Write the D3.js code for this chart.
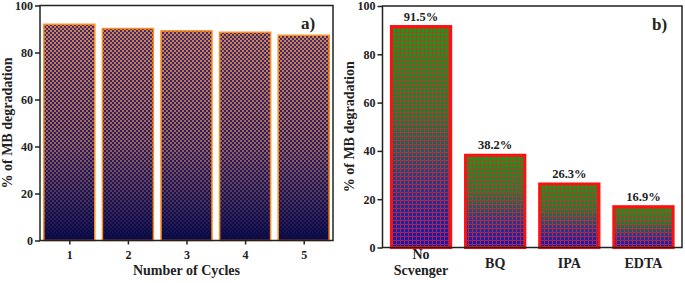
<!DOCTYPE html>
<html>
<head>
<meta charset="utf-8">
<script src="https://cdn.jsdelivr.net/npm/d3@7"></script>
<style>
  body { margin: 0; background: #fff; }
  svg { display: block; }
  text { font-family: "Liberation Serif", "DejaVu Serif", serif; font-weight: bold; fill: #222; }
  .tick text { font-size: 12px; font-family: "Liberation Serif", "DejaVu Serif", serif; }
</style>
</head>
<body>
<div id="chart"></div>
<script>
// panel a) reuse cycles
const cycles = [1, 2, 3, 4, 5]
const cycleValues = [92.0, 90.2, 89.2, 88.6, 87.3]

// panel b) scavenger test
const scavengers = ["No Scvenger", "BQ", "IPA", "EDTA"]
const scavengerValues = [91.5, 38.2, 26.3, 16.9]

const yTicks = [0, 20, 40, 60, 80, 100]

const W = 685, H = 283
const FONT = "'Liberation Serif', 'DejaVu Serif', serif"

const svg = d3.select("#chart").append("svg")
    .attr("width", W)
    .attr("height", H)
    .attr("font-family", FONT)

const defs = svg.append("defs")

// fade mask: pattern strong at the top, gone at the bottom of each bar
const fade = defs.append("linearGradient")
    .attr("id", "fadeGrad").attr("x1", 0).attr("y1", 0).attr("x2", 0).attr("y2", 1)
fade.append("stop").attr("offset", 0).attr("stop-color", "#fff")
fade.append("stop").attr("offset", 0.55).attr("stop-color", "#b0b0b0")
fade.append("stop").attr("offset", 1).attr("stop-color", "#000")
defs.append("mask")
    .attr("id", "fadeMask")
    .attr("maskContentUnits", "objectBoundingBox")
  .append("rect")
    .attr("width", 1).attr("height", 1)
    .attr("fill", "url(#fadeGrad)")

// a) navy base + orange checker
const baseA = defs.append("linearGradient")
    .attr("id", "baseA").attr("x1", 0).attr("y1", 0).attr("x2", 0).attr("y2", 1)
baseA.append("stop").attr("offset", 0).attr("stop-color", "#3a2a80")
baseA.append("stop").attr("offset", 0.6).attr("stop-color", "#221a6a")
baseA.append("stop").attr("offset", 1).attr("stop-color", "#0a0a48")

const checker = defs.append("pattern")
    .attr("id", "checker")
    .attr("patternUnits", "userSpaceOnUse")
    .attr("width", 4).attr("height", 4)
checker.append("rect").attr("width", 2).attr("height", 2).attr("fill", "#d8843e")
checker.append("rect").attr("x", 2).attr("y", 2).attr("width", 2).attr("height", 2).attr("fill", "#d8843e")

// b) green -> blue base + red grid
const baseB = defs.append("linearGradient")
    .attr("id", "baseB").attr("x1", 0).attr("y1", 0).attr("x2", 0).attr("y2", 1)
baseB.append("stop").attr("offset", 0).attr("stop-color", "#119c18")
baseB.append("stop").attr("offset", 0.4).attr("stop-color", "#1c7c38")
baseB.append("stop").attr("offset", 0.7).attr("stop-color", "#283a8a")
baseB.append("stop").attr("offset", 1).attr("stop-color", "#1414b8")

const grid = defs.append("pattern")
    .attr("id", "redGrid")
    .attr("patternUnits", "userSpaceOnUse")
    .attr("width", 4).attr("height", 4)
grid.append("rect").attr("width", 4).attr("height", 1).attr("fill", "#e42424")
grid.append("rect").attr("width", 1).attr("height", 4).attr("fill", "#e42424")

const styleAxis = g => {
    g.attr("font-family", FONT)
    g.select(".domain").remove()
    g.selectAll(".tick line").attr("stroke", "#222").attr("stroke-width", 1.5)
    g.selectAll(".tick text").attr("fill", "#222")
}

const frame = (x0, x1, y0, y1) => svg.append("rect")
    .attr("x", x0).attr("y", y0)
    .attr("width", x1 - x0).attr("height", y1 - y0)
    .attr("fill", "none")
    .attr("stroke", "#222")
    .attr("stroke-width", 1.5)

// ---------- panel a ----------
const a = {left: 40, right: 333, top: 5.5, bottom: 240.5}

const xA = d3.scaleLinear().domain([0.5, 5.5]).range([a.left, a.right])
const yA = d3.scaleLinear().domain([0, 100]).range([a.bottom, a.top])
const bwA = (xA(2) - xA(1)) * 0.87

const barsA = svg.append("g").selectAll("g")
    .data(cycles.map((c, i) => ({c, v: cycleValues[i]})))
    .join("g")

barsA.append("rect")
    .attr("x", d => xA(d.c) - bwA / 2).attr("y", d => yA(d.v))
    .attr("width", bwA).attr("height", d => yA(0) - yA(d.v))
    .attr("fill", "url(#baseA)")
barsA.append("rect")
    .attr("x", d => xA(d.c) - bwA / 2).attr("y", d => yA(d.v))
    .attr("width", bwA).attr("height", d => yA(0) - yA(d.v))
    .attr("fill", "url(#checker)")
    .attr("mask", "url(#fadeMask)")
barsA.append("rect")
    .attr("x", d => xA(d.c) - bwA / 2).attr("y", d => yA(d.v))
    .attr("width", bwA).attr("height", d => yA(0) - yA(d.v))
    .attr("fill", "none")
    .attr("stroke", "#ff8c1a")
    .attr("stroke-width", 1.5)

svg.append("g")
    .attr("transform", `translate(${a.left},0)`)
    .call(d3.axisLeft(yA).tickValues(yTicks).tickSize(5).tickPadding(2))
    .call(styleAxis)

svg.append("g")
    .attr("transform", `translate(0,${a.bottom})`)
    .call(d3.axisBottom(xA).tickValues(cycles).tickFormat(d3.format("d")).tickSize(4).tickPadding(6))
    .call(styleAxis)

frame(a.left, a.right, a.top, a.bottom)

svg.append("text")
    .attr("x", (a.left + a.right) / 2).attr("y", 275)
    .attr("text-anchor", "middle")
    .attr("font-size", 14)
    .text("Number of Cycles")

svg.append("text")
    .attr("transform", `translate(12,${(a.top + a.bottom) / 2}) rotate(-90)`)
    .attr("text-anchor", "middle")
    .attr("font-size", 14)
    .text("% of MB degradation")

svg.append("text")
    .attr("x", 301).attr("y", 29)
    .attr("font-size", 17)
    .text("a)")

// ---------- panel b ----------
const b = {left: 382.5, right: 682, top: 6, bottom: 247.5}

const xB = d3.scalePoint().domain(scavengers).range([b.left, b.right]).padding(0.52)
const yB = d3.scaleLinear().domain([0, 100]).range([b.bottom, b.top])
const bwB = xB.step() * 0.8

const barsB = svg.append("g").selectAll("g")
    .data(scavengers.map((s, i) => ({s, v: scavengerValues[i]})))
    .join("g")

barsB.append("rect")
    .attr("x", d => xB(d.s) - bwB / 2).attr("y", d => yB(d.v))
    .attr("width", bwB).attr("height", d => yB(0) - yB(d.v))
    .attr("fill", "url(#baseB)")
barsB.append("rect")
    .attr("x", d => xB(d.s) - bwB / 2).attr("y", d => yB(d.v))
    .attr("width", bwB).attr("height", d => yB(0) - yB(d.v))
    .attr("fill", "url(#redGrid)")
    .attr("opacity", 0.72)
barsB.append("rect")
    .attr("x", d => xB(d.s) - bwB / 2).attr("y", d => yB(d.v))
    .attr("width", bwB).attr("height", d => yB(0) - yB(d.v))
    .attr("fill", "none")
    .attr("stroke", "#ff1010")
    .attr("stroke-width", 3)

barsB.append("text")
    .attr("x", d => xB(d.s)).attr("y", d => yB(d.v) - 6)
    .attr("text-anchor", "middle")
    .attr("font-size", 12.5)
    .text(d => `${d.v.toFixed(1)}%`)

svg.append("g")
    .attr("transform", `translate(${b.left},0)`)
    .call(d3.axisLeft(yB).tickValues(yTicks).tickSize(5).tickPadding(2))
    .call(styleAxis)

frame(b.left, b.right, b.top, b.bottom)

// category labels, two-line for "No Scvenger"
const catLabels = svg.append("g").selectAll("text")
    .data(scavengers)
    .join("text")
    .attr("x", d => xB(d))
    .attr("y", d => d.includes(" ") ? 259 : 268)
    .attr("text-anchor", "middle")
    .attr("font-size", 14)
catLabels.selectAll("tspan")
    .data(d => d.split(" "))
    .join("tspan")
    .attr("x", function() { return this.parentNode.getAttribute("x") })
    .attr("dy", (d, i) => i ? 16 : 0)
    .text(d => d)

svg.append("text")
    .attr("transform", `translate(354,${(b.top + b.bottom) / 2}) rotate(-90)`)
    .attr("text-anchor", "middle")
    .attr("font-size", 14)
    .text("% of MB degradation")

svg.append("text")
    .attr("x", 652).attr("y", 30)
    .attr("font-size", 17)
    .text("b)")
</script>
</body>
</html>
